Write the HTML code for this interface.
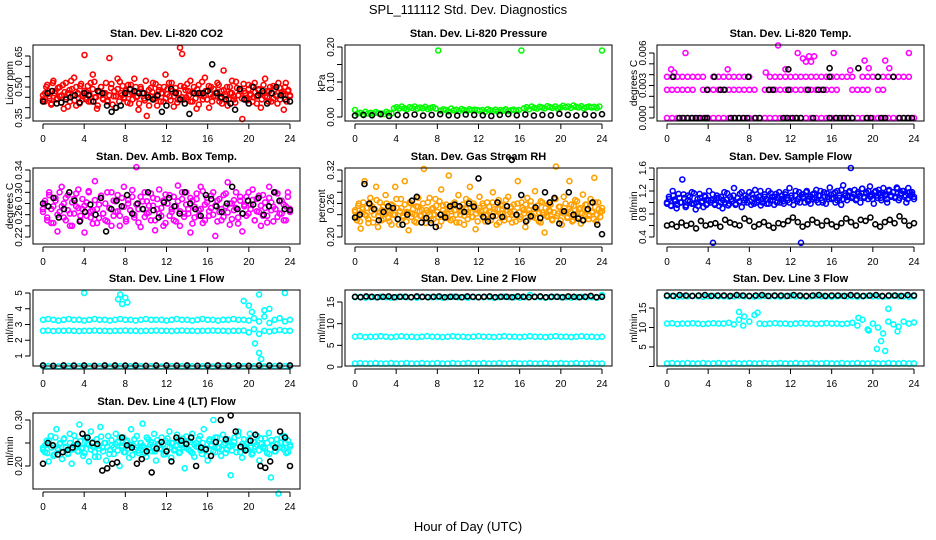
<!DOCTYPE html>
<html><head><meta charset="utf-8"><style>
html,body{margin:0;padding:0;background:#fff}
svg{display:block;font-family:"Liberation Sans",sans-serif}
</style></head><body>
<svg id="chart" width="936" height="540" viewBox="0 0 936 540" xmlns="http://www.w3.org/2000/svg">
<text x="468" y="14" font-size="13" text-anchor="middle">SPL_111112  Std. Dev. Diagnostics</text>
<text x="468" y="531" font-size="13" text-anchor="middle">Hour of Day (UTC)</text>
</svg>
<script>
const hourTicks = [0,4,8,12,16,20,24];

// ---- Panel 1: CO2
const co2Red = [440,470,510,455,420,530,480,445,500,460,395,520,470,430,490,545,410,465,505,440,655,475,430,520,560,450,395,480,500,440,470,430,640,515,455,400,490,525,460,445,480,510,420,470,540,450,390,500,470,435,360,485,455,520,445,410,500,470,430,560,490,455,520,405,475,440,690,660,500,450,480,530,430,470,395,510,460,440,545,480,400,500,455,470,520,430,480,580,455,410,500,470,440,525,460,490,345,480,445,510,465,430,520,455,490,400,470,540,450,480,430,505,460,420,495,470,390,520,480,455];
const co2Red2 = [460,430,500,480,445,415,520,470,440,495,455,425,510,475,450,405,485,530,460,435,500,470,420,515,455,480,440,505,465,430,490,525,450,410,475,500,445,470,520,435,460,495,415,480,455,540,430,470,505,450,485,425,465,510,440,475,500,455,420,490,470,445,530,460,410,495,475,440,515,455,485,430,470,500,445,465,520,435,480,455,495,425,470,505,450,440,485,515,460,430,475,500,445,490,415,470,525,455,480,440,505,465,430,490,455,475,510,445,420,485,465,500,440,470,530,455,425,495,460,480,445,515,470,435,490,460,505,450,475,420,485,465,440,510,455,480,430,500,470,445,490,455,520,440,475,465,500,430,485,460];
const co2Black = [430,470,480,420,425,440,450,460,425,470,460,430,480,470,410,380,400,410,470,490,480,470,470,450,440,460,380,410,490,470,440,420,370,470,470,470,480,610,470,450,440,420,390,490,440,420,500,460,480,420,470,500,460,440,430];
// ---- Panel 2: Pressure
const presGreen = [20,10,12,8,15,10,12,9,14,11,10,8,15,12,10,25,28,24,30,25,22,28,26,30,24,27,25,29,23,26,28,24,190,18,22,20,16,24,19,21,17,23,20,18,22,19,21,20,18,20,15,22,19,17,21,16,20,18,22,17,19,21,18,20,190,25,28,22,30,26,24,29,27,25,31,28,26,30,24,27,32,28,30,26,33,29,27,31,25,28,30,27,29,26,30,190];
const presBlack = [4,6,5,8,3,6,5,7,4,6,8,5,4,7,6,5,3,6,8,5,7,4,6,5,9,6,4,7,5,8];
// ---- Panel 3: Temp (1e-4 degC)
const tempMagLow = [0,0,0,0,0,0,0,0,0,0,0,0,0,0,0,0,0,0,0,0,0,0,0,0,0,0,0,0,0,0,0,0,0,0,0,0,0,0,0,0,0,0,0,0,0,0,0,0,0];
const tempMagMid = [26,26,26,26,26,26,null,26,26,26,26,26,26,26,26,26,26,26,null,26,26,26,26,26,26,26,26,26,26,26,26,26,26,26,null,null,26,26,26,26,null,26,26,null,null,null,null,null,null];
const tempMagHigh = [38,38,38,38,38,38,38,38,null,38,38,38,38,38,38,38,38,null,null,null,38,38,38,38,38,38,38,38,38,38,38,38,38,38,38,38,38,null,38,38,38,38,38,38,38,38,38,38,null];
const tempOutHours = [0.4,0.7,1.8,5.9,9.6,10.8,11.5,12.7,13.2,13.8,14.3,13.5,14.0,16.2,17.8,19.2,19.6,21.2,21.6,23.5];
const tempOutVals = [45,42,60,45,42,67,45,60,55,57,57,52,52,60,44,53,46,53,46,60];
const tempBlkLowHours = [1.2,1.6,2,2.4,2.8,3.2,3.7,3.9,6.2,6.6,7,7.4,7.8,8.6,9,11.3,11.7,12.2,12.6,13,14.2,15.8,16.4,16.8,17.2,17.6,18,19.4,19.8,20.8,21.2,22.6,23,23.4,23.8];
const tempBlkMidHours = [3.9,5.2,5.6,9.9,10.3,11.8,13.7,14.7,15.2];
const tempBlkHighHours = [0.6,4.6,7.9,11.8,15.8,15.8,18.6,20.5,22];
const tempBlkHighVals = [38,38,38,45,46,38,46,38,38];
// ---- Panel 4: Amb box temp (1e-3)
const ambMag = [270,285,255,300,245,275,290,230,265,310,280,250,295,262,240,288,275,305,258,270,228,282,300,255,268,320,245,278,290,262,250,300,272,240,285,265,295,258,275,310,248,280,268,292,255,345,270,238,284,300,262,276,250,290,232,270,305,258,285,245,280,295,265,250,275,312,240,288,262,300,270,228,285,255,298,268,310,245,278,290,258,272,300,222,285,265,250,295,275,318,242,280,268,300,255,285,230,275,292,262,278,305,250,288,265,240,295,272,258,310,282,248,270,298,262,285,250,275,300,265];
const ambMag2 = [265,280,250,295,270,245,285,260,300,275,255,290,268,240,282,262,298,272,250,288,276,258,302,266,244,286,270,254,294,262,280,248,272,300,258,284,266,240,290,274,252,286,268,304,260,278,246,292,270,256,284,264,298,276,250,288,262,272,240,296,280,258,270,292,248,284,266,300,256,278,262,290,244,274,288,258,270,302,250,282,266,294,260,276,248,288,270,256,298,264,280,252,286,272,244,292,262,278,258,300,270,286,250,266,294,276,258,282,246,290,268,274,300,256,284,262,278,250,292,270];
const ambBlack = [280,275,290,255,270,300,285,248,265,278,260,290,230,270,285,275,295,262,280,270,300,268,255,282,290,275,262,300,280,270,258,295,288,275,265,280,310,270,262,285,278,290,260,275,300,285,270,268];
// ---- Panel 5: RH
const rhOrange = [245,230,260,215,250,300,238,225,270,255,240,290,218,262,248,232,275,245,228,258,240,290,252,222,268,235,300,245,212,260,242,228,255,270,238,248,322,225,262,240,250,232,268,245,220,285,256,238,242,310,230,258,248,226,275,240,252,222,268,245,290,236,260,214,248,272,240,256,228,262,245,238,280,250,222,266,242,256,230,248,272,244,226,258,240,300,232,262,248,218,270,242,256,236,282,250,228,264,244,208,238,258,246,230,268,326,242,254,222,272,246,236,300,258,230,266,242,250,224,276,240,258,232,268,246,306,228,262,244,252];
const rhOrange2 = [248,236,256,228,244,262,240,252,232,258,246,226,250,266,238,244,230,254,242,260,234,248,222,256,240,268,232,246,252,238,258,228,244,262,236,250,240,226,254,246,238,260,232,248,244,270,230,252,240,256,236,264,228,248,242,258,234,250,246,232,262,240,254,226,246,258,238,250,232,264,244,236,256,242,228,252,246,260,234,248,240,254,230,262,244,238,250,226,258,242,236,266,248,232,254,240,246,228,260,244,236,252,242,258,230,248,264,238,250,234,256,244,226,262,240,252,236,248,258,232,244,268,238,254,230,246,242,260,234,250,246,228,256,240,264,236,252,242,230,258,248,238,254,244,232,262,240,250,236,246];
const rhBlack = [235,240,295,260,250,230,245,255,252,232,222,240,265,272,226,234,225,218,240,235,255,258,255,245,260,254,305,236,228,237,262,236,255,338,240,275,228,237,253,234,280,262,270,224,246,280,240,233,230,250,262,222,205];
// ---- Panel 6: Sample flow (1e-2)
const flowBlue = [100,110,95,120,105,90,115,100,140,108,95,112,102,118,98,88,106,115,100,92,110,98,120,104,30,96,112,108,100,90,118,105,95,110,102,125,98,108,115,92,104,112,100,118,96,108,122,100,110,95,106,114,98,120,104,110,96,115,108,100,112,98,118,104,125,108,96,112,102,118,30,110,100,120,106,98,114,108,122,100,112,104,118,98,110,126,106,115,100,120,108,96,130,112,104,118,160,110,122,106,115,100,124,110,118,106,128,112,98,120,108,116,104,125,112,100,122,110,118,108,126,104,115,120,110,100,125,112,118,106];
const flowBlue2 = [98,106,94,112,102,96,108,100,114,92,104,110,98,116,100,94,108,102,112,96,104,100,114,98,108,94,110,104,100,116,98,106,112,96,108,102,118,100,106,110,102,114,98,108,104,120,100,110,106,98,116,104,110,100,118,106,102,114,108,100,112,104,120,106,100,114,108,118,102,110,106,116,104,112,120,100,110,116,106,114,108,118,104,112,122,106,116,110,120,108,114,104,118,112,124,108,116,120,110,106,118,112,122,108,116,114,106,120,112,118,110,124,108,116,120,112,106,118,114,110];
const flowBlack = [60,62,58,65,60,63,55,68,60,62,64,58,70,65,62,60,72,68,58,62,66,60,56,64,62,68,74,66,58,62,70,65,60,68,62,58,64,72,66,60,70,68,74,62,58,66,70,64,76,68,60,64];
// ---- Panel 7: Line 1
const l1High = [3.3,3.35,3.3,3.25,3.3,3.35,3.3,3.3,3.25,3.3,3.35,3.3,3.3,3.25,3.3,3.35,3.3,3.3,3.25,3.3,3.35,3.3,3.3,3.3,3.25,3.3,3.35,3.3,3.3,3.25,3.3,3.35,3.3,3.3,3.25,3.3,3.3,3.35,3.3,3.3,3.25,3.4,3.2,3.5,3.1,3.3,3.4,3.2,3.3];
const l1Mid = [2.6,2.62,2.58,2.6,2.6,2.62,2.6,2.58,2.6,2.6,2.62,2.6,2.6,2.58,2.6,2.6,2.62,2.6,2.6,2.58,2.6,2.6,2.62,2.6,2.6,2.58,2.6,2.62,2.6,2.6,2.58,2.6,2.6,2.62,2.6,2.6,2.58,2.6,2.6,2.62,2.5,2.7,2.4,2.6,2.55,2.6,2.65,2.6,2.6];
const l1Low = [0.35,0.36,0.35,0.34,0.35,0.36,0.35,0.35,0.34,0.35,0.36,0.35,0.35,0.34,0.35,0.36,0.35,0.35,0.34,0.35,0.36,0.35,0.35,0.34,0.35,0.36,0.35,0.35,0.34,0.35,0.36,0.35,0.35,0.34,0.35,0.36,0.35,0.35,0.34,0.35,0.36,0.35,0.35,0.34,0.35,0.36,0.35,0.35,0.34];
const l1OutHours = [4,7.3,7.5,8,8.2,19.5,20,21,21.5,22,23.5,21,21.2,20.6,7.7,20.3];
const l1OutVals = [5,4.6,4.9,4.7,4.4,4.5,4.2,4.9,3.9,4,5,1.2,0.8,1.8,4.3,3.8];
const l1Black = [0.4,0.38,0.4,0.39,0.4,0.38,0.4,0.4,0.39,0.4,0.38,0.4,0.4,0.39,0.4,0.38,0.4,0.4,0.39,0.4,0.38,0.4,0.4,0.39,0.4];
// ---- Panel 8: Line 2
const l2High = [16.1,16.2,16.0,16.1,16.1,16.2,16.1,16.0,16.1,16.2,16.1,16.1,16.0,16.1,16.2,16.1,16.1,16.0,16.1,16.2,16.1,16.1,16.0,16.1,16.2,16.1,16.1,16.0,16.1,16.2,16.1,16.1,16.0,16.1,16.6,16.1,16.1,16.0,16.1,16.2,16.1,16.1,16.0,16.1,16.2,16.1,16.1,16.0,16.6];
const l2Mid = [7.0,7.1,6.9,7.0,7.0,7.1,7.0,6.9,7.0,7.1,7.0,7.0,6.9,7.0,7.1,7.0,7.0,6.9,7.0,7.1,7.0,7.0,6.9,7.0,7.1,7.0,7.0,6.9,7.0,7.1,7.0,7.0,6.9,7.0,7.1,7.0,7.0,6.9,7.0,7.1,7.0,7.0,6.9,7.0,7.1,7.0,7.0,6.9,7.0];
const l2Low = [0.8,0.9,0.8,0.8,0.9,0.8,0.8,0.9,0.8,0.8,0.9,0.8,0.8,0.9,0.8,0.8,0.9,0.8,0.8,0.9,0.8,0.8,0.9,0.8,0.8,0.9,0.8,0.8,0.9,0.8,0.8,0.9,0.8,0.8,0.9,0.8,0.8,0.9,0.8,0.8,0.9,0.8,0.8,0.9,0.8,0.8,0.9,0.8,0.8];
const l2Black = [16.2,16.1,16.3,16.2,16.1,16.2,16.3,16.1,16.2,16.2,16.1,16.3,16.2,16.1,16.2,16.3,16.1,16.2,16.2,16.1,16.3,16.2,16.1,16.2,16.3,16.1,16.2,16.2,16.1,16.3,16.2,16.1,16.2,16.3,16.1,16.2,16.2,16.1,16.3,16.2,16.1,16.2,16.4,16.1,16.2];
// ---- Panel 9: Line 3
const l3High = [18.0,18.1,17.9,18.0,18.0,18.1,18.0,17.9,18.0,18.1,18.0,18.0,17.9,18.0,18.1,18.0,18.0,17.9,18.0,18.1,18.0,18.0,17.9,18.0,18.1,18.0,18.0,17.9,18.0,18.1,18.0,18.0,17.9,18.0,18.1,18.0,18.0,17.9,18.0,18.1,18.0,18.0,17.9,18.0,18.1,18.0,18.0,17.9,18.0];
const l3Mid = [11.0,11.1,10.9,11.0,11.0,11.1,11.0,10.9,11.0,11.1,11.0,11.0,11.2,10.8,12.0,12.8,11.5,13.2,11.0,10.9,11.0,11.1,11.0,11.0,10.9,11.0,11.1,11.0,11.0,10.9,11.0,11.1,11.0,11.0,10.9,11.0,11.2,10.5,12.0,9.5,11.0,10.0,8.5,11.5,10.8,10.2,11.5,11.0,11.3];
const l3Low = [0.8,0.9,0.8,0.8,0.9,0.8,0.8,0.9,0.8,0.8,0.9,0.8,0.8,0.9,0.8,0.8,0.9,0.8,0.8,0.9,0.8,0.8,0.9,0.8,0.8,0.9,0.8,0.8,0.9,0.8,0.8,0.9,0.8,0.8,0.9,0.8,0.8,0.9,0.8,0.8,0.9,0.8,0.8,0.9,0.8,0.8,0.9,0.8,0.8];
const l3OutHours = [20.4,21.2,20.8,19.6,22.4,18.6,7.0,7.4,8.8,21.5];
const l3OutVals = [4.5,4,6.5,9.2,9,12.5,14,10.5,13.8,14.8];
const l3Black = [18.2,18.1,18.3,18.2,18.1,18.2,18.3,18.1,18.2,18.2,18.1,18.3,18.2,18.1,18.2,18.3,18.1,18.2,18.2,18.1,18.3,18.2,18.1,18.2,18.3,18.1,18.2,18.2,18.1,18.3,18.2,18.1,18.2,18.3,18.1,18.2,18.2,18.1,18.3,18.2];
// ---- Panel 10: Line 4 (1e-3)
const l4Cyan = [240,230,255,210,265,245,225,280,235,250,215,260,240,228,270,205,245,255,232,290,238,222,262,248,210,275,242,230,258,220,285,240,250,212,265,235,245,226,270,252,200,240,262,230,255,218,280,245,236,265,228,250,292,240,220,258,246,232,270,212,248,238,262,225,255,242,275,218,250,236,268,228,245,260,195,240,255,232,270,220,250,242,265,226,280,238,212,258,246,300,230,262,240,222,268,250,236,255,180,245,262,230,275,240,218,258,248,236,270,225,252,242,265,212,248,238,260,228,272,175,245,232,258,140,250,240,265,228,255,242];
const l4Cyan2 = [235,245,228,255,240,222,262,238,248,230,258,242,226,250,236,266,244,232,254,240,228,260,246,236,252,220,244,238,264,232,250,242,226,256,240,248,234,262,244,230,252,238,246,224,258,240,234,250,244,228,262,238,252,242,232,256,246,236,248,226,260,240,250,234,244,256,230,248,240,264,236,252,228,246,242,258,234,250,238,222,254,244,232,262,240,250,236,246,228,258,242,234,252,240,266,230,248,244,236,256,240,228,252,246,234,260,242,238,250,226,256,244,232,248,240,262,236,250,230,246];
const l4Black = [205,250,245,225,230,235,240,248,270,262,250,248,190,195,205,208,262,245,240,205,215,232,186,238,252,232,210,262,255,248,262,200,240,236,222,252,300,258,310,275,242,234,255,268,200,196,210,240,275,262,200];

const MAG='#ff00ff', CY='#00ffff', OR='#ffa000';
const panels = [
 {id:'co2',c:0,r:0,t:'Stan. Dev. Li-820 CO2',yt:'Licor ppm',ref:[0.35,118,0.65,56],tk:[0.35,0.40,0.45,0.50,0.55,0.60,0.65],lb:{'0.35':'0.35','0.5':'0.50','0.65':'0.65'},
  s:[{v:co2Red,k:0.001,col:'red'},{v:co2Red2,k:0.001,col:'red'},{v:co2Black,k:0.001,col:'#000'}]},
 {id:'pressure',c:1,r:0,t:'Stan. Dev. Li-820 Pressure',yt:'kPa',ref:[0,117,0.2,47],tk:[0,0.05,0.1,0.15,0.2],lb:{'0':'0.00','0.1':'0.10','0.2':'0.20'},
  s:[{v:presGreen,k:0.001,col:'#00ff00'},{v:presBlack,k:0.001,col:'#000'}]},
 {id:'temp',c:2,r:0,t:'Stan. Dev. Li-820 Temp.',yt:'degrees C',ref:[0,118,0.006,53],tk:[0,0.001,0.002,0.003,0.004,0.005,0.006],lb:{'0':'0.000','0.003':'0.003','0.006':'0.006'},
  s:[{v:tempMagLow,k:0.0001,col:MAG},{v:tempMagMid,k:0.0001,col:MAG},{v:tempMagHigh,k:0.0001,col:MAG},{h:tempOutHours,v:tempOutVals,k:0.0001,col:MAG},
     {h:tempBlkLowHours,c0:0,col:'#000'},{h:tempBlkMidHours,c0:0.0026,col:'#000'},{h:tempBlkHighHours,v:tempBlkHighVals,k:0.0001,col:'#000'}]},
 {id:'amb',c:0,r:1,t:'Stan. Dev. Amb. Box Temp.',yt:'degrees C',ref:[0.22,237,0.34,170],tk:[0.22,0.24,0.26,0.28,0.30,0.32,0.34],lb:{'0.22':'0.22','0.26':'0.26','0.3':'0.30','0.34':'0.34'},
  s:[{v:ambMag,k:0.001,col:MAG},{v:ambMag2,k:0.001,col:MAG},{v:ambBlack,k:0.001,col:'#000'}]},
 {id:'rh',c:1,r:1,t:'Stan. Dev. Gas Stream RH',yt:'percent',ref:[0.2,237,0.32,170],tk:[0.2,0.22,0.24,0.26,0.28,0.3,0.32],lb:{'0.2':'0.20','0.26':'0.26','0.32':'0.32'},
  s:[{v:rhOrange,k:0.001,col:OR},{v:rhOrange2,k:0.001,col:OR},{v:rhBlack,k:0.001,col:'#000'}]},
 {id:'sample-flow',c:2,r:1,t:'Stan. Dev. Sample Flow',yt:'ml/min',ref:[0.4,237,1.6,168],tk:[0.4,0.6,0.8,1.0,1.2,1.4,1.6],lb:{'0.4':'0.4','0.8':'0.8','1.2':'1.2','1.6':'1.6'},
  s:[{v:flowBlue,k:0.01,col:'#0000ff'},{v:flowBlue2,k:0.01,col:'#0000ff'},{v:flowBlack,k:0.01,col:'#000'}]},
 {id:'line1',c:0,r:2,t:'Stan. Dev. Line 1 Flow',yt:'ml/min',ref:[1,356,5,293],tk:[1,2,3,4,5],lb:{'1':'1','2':'2','3':'3','4':'4','5':'5'},
  s:[{v:l1High,k:1,col:CY},{v:l1Mid,k:1,col:CY},{v:l1Low,k:1,col:CY},{h:l1OutHours,v:l1OutVals,k:1,col:CY},{v:l1Black,k:1,col:'#000'}]},
 {id:'line2',c:1,r:2,t:'Stan. Dev. Line 2 Flow',yt:'ml/min',ref:[0,367,15,302],tk:[0,5,10,15],lb:{'0':'0','5':'5','10':'10','15':'15'},
  s:[{v:l2High,k:1,col:CY},{v:l2Mid,k:1,col:CY},{v:l2Low,k:1,col:CY},{v:l2Black,k:1,col:'#000'}]},
 {id:'line3',c:2,r:2,t:'Stan. Dev. Line 3 Flow',yt:'ml/min',ref:[5,347,15,308],tk:[0,5,10,15],lb:{'5':'5','10':'10','15':'15'},
  s:[{v:l3High,k:1,col:CY},{v:l3Mid,k:1,col:CY},{v:l3Low,k:1,col:CY},{h:l3OutHours,v:l3OutVals,k:1,col:CY},{v:l3Black,k:1,col:'#000'}]},
 {id:'line4',c:0,r:3,t:'Stan. Dev. Line 4 (LT) Flow',yt:'ml/min',ref:[0.2,466,0.3,420],tk:[0.2,0.25,0.3],lb:{'0.2':'0.20','0.3':'0.30'},
  s:[{v:l4Cyan,k:0.001,col:CY},{v:l4Cyan2,k:0.001,col:CY},{v:l4Black,k:0.001,col:'#000'}]}
];

const NS='http://www.w3.org/2000/svg';
const svg=document.getElementById('chart');
function mk(tag,attrs,parent){const e=document.createElementNS(NS,tag);for(const a in attrs)e.setAttribute(a,attrs[a]);(parent||svg).appendChild(e);return e;}
const rowTop=[45,168,290,413];
panels.forEach(p=>{
  const ox=p.c*312, top=rowTop[p.r], bot=top+76;
  const left=ox+33, right=ox+300;
  const xS=h=>ox+43+h*(247/24);
  const [v1,p1,v2,p2]=p.ref;
  const yS=v=>p1+(v-v1)*(p2-p1)/(v2-v1);
  const g=mk('g',{});
  
  
  const tt=mk('text',{x:(left+right)/2,y:top-8,'font-size':11,'font-weight':'bold','text-anchor':'middle'},g);
  tt.textContent=p.t;
  
  
  const yt=mk('text',{x:0,y:0,'font-size':10,'text-anchor':'middle',transform:`translate(${ox+13},${(top+bot)/2}) rotate(-90)`},g);
  yt.textContent=p.yt;
  
  
  const pg=mk('g',{fill:'none','stroke-width':1.6},g);
  
  
  p.s.forEach(s=>{
    const n=s.h?s.h.length:s.v.length;
    for(let i=0;i<n;i++){
      const h=s.h?s.h[i]:i*24/(n-1);
      const val=s.v?s.v[i]:s.c0;
      if(val===null||val===undefined)continue;
      const c=mk('circle',{cx:xS(h).toFixed(1),cy:yS(val*(s.v?s.k:1)).toFixed(1),r:2.5,stroke:s.col},pg);
      
      
    }
  });
  const box=mk('rect',{x:left,y:top,width:right-left,height:bot-top,fill:'none',stroke:'#000','stroke-width':1},g);
  
  
  const xa=mk('g',{stroke:'#000','stroke-width':1},g);
  
  
  mk('line',{x1:xS(hourTicks[0]),x2:xS(hourTicks[hourTicks.length-1]),y1:bot+3,y2:bot+3},xa);
  hourTicks.forEach(h=>{
    mk('line',{x1:xS(h),x2:xS(h),y1:bot+3,y2:bot+8},xa);
    const t=mk('text',{x:xS(h),y:bot+21,'font-size':10,'text-anchor':'middle',stroke:'none',fill:'#000'},g);
    t.textContent=h;
    
    
  });
  const ya=mk('g',{stroke:'#000','stroke-width':1},g);
  
  
  mk('line',{x1:left-3,x2:left-3,y1:yS(p.tk[0]),y2:yS(p.tk[p.tk.length-1])},ya);
  p.tk.forEach(v=>{
    mk('line',{x1:left-8,x2:left-3,y1:yS(v),y2:yS(v)},ya);
    const key=String(+v.toFixed(4));
    if(p.lb[key]){
      const t=mk('text',{x:0,y:0,'font-size':10,'text-anchor':'middle',transform:`translate(${left-11},${yS(v)}) rotate(-90)`},g);
      t.textContent=p.lb[key];
      
      
    }
  });
});
</script>
</body></html>
